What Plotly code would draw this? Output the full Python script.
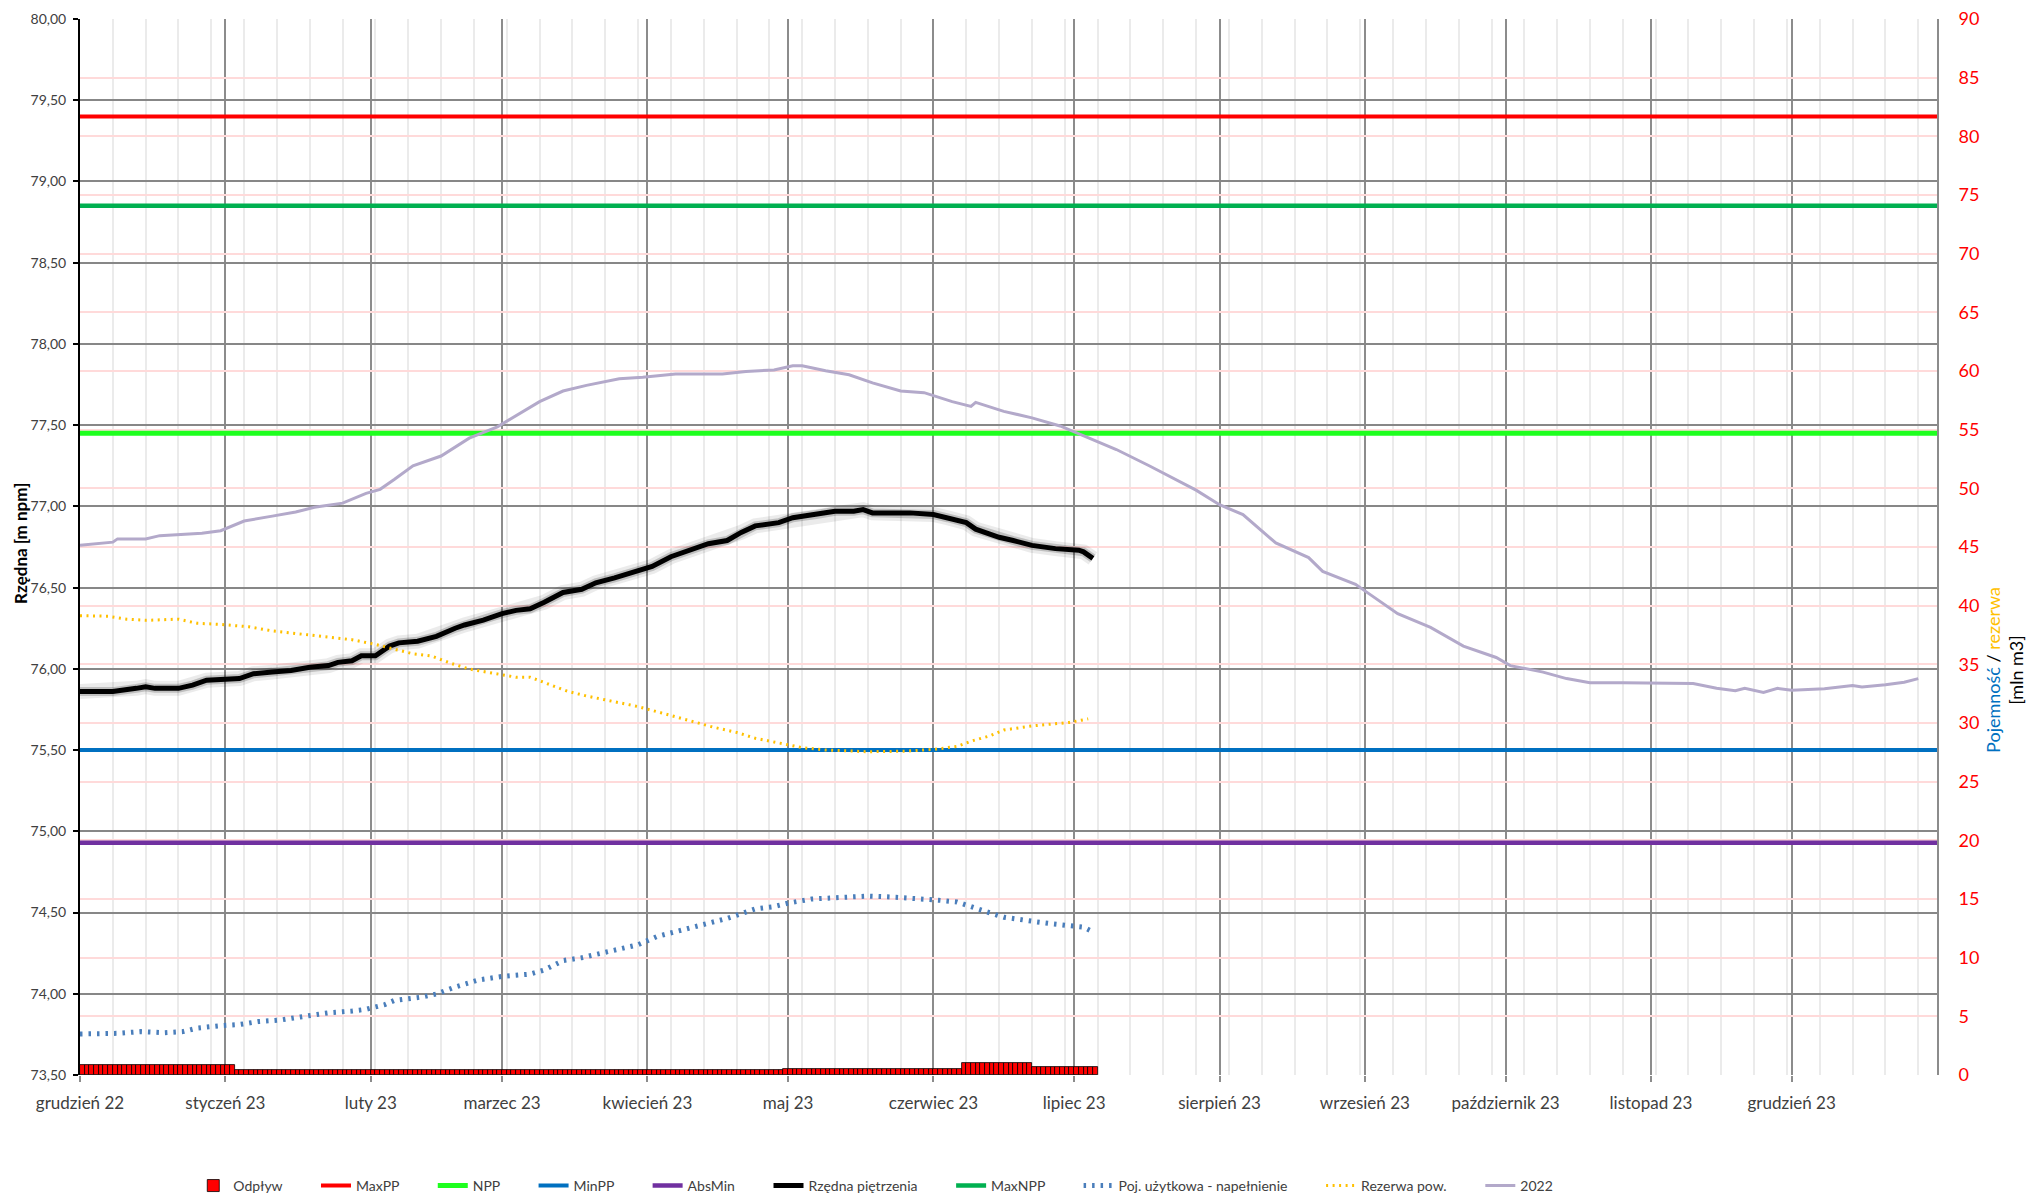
import plotly.graph_objects as go
from datetime import date, timedelta

# ---------------- data ----------------
month_ticks = ['2022-12-01', '2023-01-01', '2023-02-01', '2023-03-01', '2023-04-01', '2023-05-01',
               '2023-06-01', '2023-07-01', '2023-08-01', '2023-09-01', '2023-10-01', '2023-11-01',
               '2023-12-01']
month_labels = ['grudzień 22', 'styczeń 23', 'luty 23', 'marzec 23', 'kwiecień 23', 'maj 23',
                'czerwiec 23', 'lipiec 23', 'sierpień 23', 'wrzesień 23', 'październik 23',
                'listopad 23', 'grudzień 23']
x_span = ['2022-12-01', '2024-01-01']

max_pp = 79.40
npp = 77.45
min_pp = 75.50
abs_min = 74.93
max_npp = 78.85

rzedna_dates = ['2022-12-01', '2022-12-08', '2022-12-13', '2022-12-15', '2022-12-17', '2022-12-22',
                '2022-12-25', '2022-12-28', '2023-01-04', '2023-01-07', '2023-01-11', '2023-01-15',
                '2023-01-19', '2023-01-23', '2023-01-25', '2023-01-28', '2023-01-30', '2023-02-02',
                '2023-02-05', '2023-02-07', '2023-02-11', '2023-02-15', '2023-02-19', '2023-02-21',
                '2023-02-25', '2023-03-01', '2023-03-04', '2023-03-07', '2023-03-10', '2023-03-14',
                '2023-03-18', '2023-03-21', '2023-03-25', '2023-03-30', '2023-04-02', '2023-04-06',
                '2023-04-11', '2023-04-14', '2023-04-18', '2023-04-21', '2023-04-24', '2023-04-29',
                '2023-05-02', '2023-05-07', '2023-05-11', '2023-05-15', '2023-05-17', '2023-05-19',
                '2023-05-27', '2023-06-01', '2023-06-04', '2023-06-08', '2023-06-10', '2023-06-15',
                '2023-06-18', '2023-06-22', '2023-06-27', '2023-07-02', '2023-07-03', '2023-07-05']
rzedna_values = [75.86, 75.86, 75.88, 75.89, 75.88, 75.88,
                 75.90, 75.93, 75.94, 75.97, 75.98, 75.99,
                 76.01, 76.02, 76.04, 76.05, 76.08, 76.08,
                 76.14, 76.16, 76.17, 76.20, 76.25, 76.27,
                 76.30, 76.34, 76.36, 76.37, 76.41, 76.47,
                 76.49, 76.53, 76.56, 76.60, 76.63, 76.69,
                 76.74, 76.77, 76.79, 76.84, 76.88, 76.90,
                 76.93, 76.95, 76.97, 76.97, 76.98, 76.96,
                 76.96, 76.95, 76.93, 76.90, 76.86, 76.81,
                 76.79, 76.76, 76.74, 76.73, 76.72, 76.68]

poj_dates = ['2022-12-01', '2022-12-09', '2022-12-14', '2022-12-19', '2022-12-23', '2022-12-26',
             '2022-12-31', '2023-01-04', '2023-01-08', '2023-01-13', '2023-01-17', '2023-01-23',
             '2023-01-28', '2023-01-31', '2023-02-04', '2023-02-06', '2023-02-12', '2023-02-15',
             '2023-02-19', '2023-02-24', '2023-03-01', '2023-03-07', '2023-03-10', '2023-03-14',
             '2023-03-18', '2023-03-21', '2023-03-25', '2023-03-30', '2023-04-03', '2023-04-07',
             '2023-04-11', '2023-04-14', '2023-04-18', '2023-04-21', '2023-04-24', '2023-04-28',
             '2023-05-01', '2023-05-06', '2023-05-12', '2023-05-18', '2023-05-24', '2023-05-30',
             '2023-06-02', '2023-06-06', '2023-06-09', '2023-06-12', '2023-06-16', '2023-06-19',
             '2023-06-23', '2023-06-26', '2023-06-30', '2023-07-03', '2023-07-05']
poj_values = [3.5, 3.55, 3.7, 3.6, 3.7, 4.0,
              4.2, 4.3, 4.55, 4.7, 4.95, 5.3,
              5.45, 5.6, 6.0, 6.35, 6.65, 6.9,
              7.5, 8.1, 8.4, 8.6, 8.95, 9.75,
              10.0, 10.3, 10.6, 11.1, 11.8, 12.2,
              12.7, 13.0, 13.35, 13.75, 14.15, 14.35,
              14.65, 15.0, 15.15, 15.25, 15.15, 15.05,
              14.9, 14.75, 14.4, 13.95, 13.45, 13.25,
              13.05, 12.9, 12.75, 12.6, 12.2]

rez_dates = ['2022-12-01', '2022-12-07', '2022-12-11', '2022-12-15', '2022-12-22', '2022-12-26',
             '2022-12-31', '2023-01-06', '2023-01-11', '2023-01-17', '2023-01-23', '2023-01-28',
             '2023-02-02', '2023-02-06', '2023-02-10', '2023-02-14', '2023-02-18', '2023-02-22',
             '2023-02-27', '2023-03-04', '2023-03-07', '2023-03-11', '2023-03-15', '2023-03-19',
             '2023-03-24', '2023-03-30', '2023-04-05', '2023-04-11', '2023-04-15', '2023-04-20',
             '2023-04-24', '2023-04-29', '2023-05-04', '2023-05-09', '2023-05-18', '2023-05-26',
             '2023-06-01', '2023-06-06', '2023-06-09', '2023-06-13', '2023-06-16', '2023-06-22',
             '2023-06-27', '2023-06-30', '2023-07-04']
rez_values = [39.15, 39.1, 38.85, 38.75, 38.85, 38.5,
              38.4, 38.2, 37.85, 37.6, 37.35, 37.1,
              36.7, 36.3, 35.9, 35.7, 35.1, 34.6,
              34.25, 33.9, 33.9, 33.3, 32.7, 32.3,
              31.9, 31.4, 30.75, 30.05, 29.65, 29.2,
              28.7, 28.3, 27.9, 27.7, 27.55, 27.6,
              27.75, 28.0, 28.45, 28.9, 29.4, 29.75,
              29.9, 30.05, 30.35]

y2022_dates = ['2022-12-01', '2022-12-08', '2022-12-09', '2022-12-15', '2022-12-18', '2022-12-27',
               '2022-12-31', '2023-01-05', '2023-01-11', '2023-01-16', '2023-01-20', '2023-01-26',
               '2023-01-31', '2023-02-03', '2023-02-06', '2023-02-10', '2023-02-16', '2023-02-22',
               '2023-02-28', '2023-03-05', '2023-03-09', '2023-03-14', '2023-03-19', '2023-03-26',
               '2023-03-31', '2023-04-07', '2023-04-17', '2023-04-22', '2023-04-28', '2023-05-02',
               '2023-05-04', '2023-05-09', '2023-05-14', '2023-05-19', '2023-05-25', '2023-05-30',
               '2023-06-05', '2023-06-09', '2023-06-10', '2023-06-16', '2023-06-22', '2023-06-28',
               '2023-07-04', '2023-07-10', '2023-07-17', '2023-07-27', '2023-08-01', '2023-08-06',
               '2023-08-13', '2023-08-20', '2023-08-23', '2023-08-30', '2023-09-01', '2023-09-08',
               '2023-09-15', '2023-09-22', '2023-09-29', '2023-10-02', '2023-10-09', '2023-10-14',
               '2023-10-19', '2023-10-26', '2023-11-10', '2023-11-15', '2023-11-19', '2023-11-21',
               '2023-11-25', '2023-11-28', '2023-12-01', '2023-12-08', '2023-12-14', '2023-12-16',
               '2023-12-21', '2023-12-25', '2023-12-28']
y2022_values = [76.76, 76.78, 76.80, 76.80, 76.82, 76.835,
                76.85, 76.91, 76.94, 76.965, 76.995, 77.02,
                77.08, 77.105, 77.165, 77.25, 77.31, 77.42,
                77.49, 77.575, 77.645, 77.71, 77.745, 77.785,
                77.795, 77.815, 77.815, 77.83, 77.84, 77.865,
                77.865, 77.835, 77.81, 77.76, 77.71, 77.70,
                77.645, 77.615, 77.64, 77.585, 77.545, 77.495,
                77.42, 77.35, 77.25, 77.10, 77.01, 76.95,
                76.775, 76.685, 76.60, 76.52, 76.48, 76.34,
                76.255, 76.14, 76.07, 76.02, 75.98, 75.94,
                75.915, 75.915, 75.91, 75.88, 75.865, 75.88,
                75.855, 75.88, 75.868, 75.878, 75.898, 75.888,
                75.902, 75.918, 75.94]

odplyw_start = ['2022-12-01', '2023-01-03', '2023-04-30', '2023-06-07', '2023-06-22']
odplyw_end = ['2023-01-02', '2023-04-29', '2023-06-06', '2023-06-21', '2023-07-05']
odplyw_values = [0.85, 0.4, 0.5, 1.0, 0.65]

# ---------------- figure ----------------
FONT = 'Lato'
DAY_MS = 86400000

bar_x, bar_y = [], []
for s, e, v in zip(odplyw_start, odplyw_end, odplyw_values):
    d = date.fromisoformat(s)
    de = date.fromisoformat(e)
    while d <= de:
        bar_x.append(d.isoformat())
        bar_y.append(v)
        d += timedelta(days=1)

PAD = '\u00a0' * 8

fig = go.Figure()

fig.add_trace(go.Bar(x=bar_x, y=bar_y, name='Odpływ' + PAD, yaxis='y2',
                     width=DAY_MS, offset=0,
                     marker=dict(color='#FF0000', line=dict(color='#000000', width=0.8))))


def hline(val, name, color, width):
    fig.add_trace(go.Scatter(x=x_span, y=[val, val], mode='lines', name=name + PAD,
                             line=dict(color=color, width=width)))


hline(max_pp, 'MaxPP', '#FF0000', 4)
hline(npp, 'NPP', '#1EFF1E', 5)
hline(min_pp, 'MinPP', '#0070C0', 4)
hline(abs_min, 'AbsMin', '#7030A0', 4.5)

# soft shadow of the main line
fig.add_trace(go.Scatter(x=rzedna_dates, y=rzedna_values, mode='lines', showlegend=False,
                         hoverinfo='skip', line=dict(color='rgba(0,0,0,0.08)', width=15)))
fig.add_trace(go.Scatter(x=rzedna_dates, y=rzedna_values, mode='lines', showlegend=False,
                         hoverinfo='skip', line=dict(color='rgba(0,0,0,0.18)', width=9)))
fig.add_trace(go.Scatter(x=rzedna_dates, y=rzedna_values, mode='lines', name='Rzędna piętrzenia' + PAD,
                         line=dict(color='#000000', width=5)))

hline(max_npp, 'MaxNPP', '#00B050', 4.5)

fig.add_trace(go.Scatter(x=poj_dates, y=poj_values, mode='lines', yaxis='y2',
                         name='Poj. użytkowa - napełnienie' + PAD,
                         line=dict(color='#4A7EBB', width=5, dash='2.5px,6px')))
fig.add_trace(go.Scatter(x=rez_dates, y=rez_values, mode='lines', yaxis='y2',
                         name='Rezerwa pow.' + PAD,
                         line=dict(color='#FFC000', width=3, dash='2px,4.5px')))
fig.add_trace(go.Scatter(x=y2022_dates, y=y2022_values, mode='lines', name='2022',
                         line=dict(color='#B3A9CA', width=3)))

fig.update_layout(
    width=2026, height=1196,
    margin=dict(l=80, r=89, t=19, b=121, autoexpand=False),
    paper_bgcolor='white', plot_bgcolor='white',
    separators=', ',
    font=dict(family=FONT, size=14, color='#404040'),
    bargap=0,
    showlegend=True,
    legend=dict(orientation='h', x=0.061, xanchor='left', yref='container', y=0.0084, yanchor='middle',
                font=dict(family=FONT, size=14, color='#404040'), bgcolor='rgba(0,0,0,0)'),
    xaxis=dict(type='date', range=x_span, automargin=False,
               tickmode='array', tickvals=month_ticks, ticktext=month_labels,
               tickfont=dict(family=FONT, size=17, color='#404040'),
               ticks='outside', ticklen=6, tickwidth=1.5, tickcolor='#8C8C8C',
               ticklabelstandoff=7,
               showgrid=True, gridcolor='#8C8C8C', gridwidth=1.5,
               minor=dict(tickmode='linear', tick0='2022-12-01', dtick=7 * DAY_MS,
                          showgrid=True, gridcolor='#EBEBEB', gridwidth=1.5, ticks=''),
               showline=False, zeroline=False),
    yaxis=dict(range=[73.5, 80.0], tickmode='linear', tick0=73.5, dtick=0.5, tickformat='.2f',
               automargin=False,
               tickfont=dict(family=FONT, size=14, color='#404040'),
               ticks='outside', ticklen=5, tickcolor='#000000', tickwidth=1.5,
               ticklabelstandoff=4,
               showgrid=True, gridcolor='#878787', gridwidth=2,
               showline=True, linecolor='#000000', linewidth=2, zeroline=False),
    yaxis2=dict(range=[0, 90], tickmode='linear', tick0=0, dtick=5, overlaying='y', side='right',
                automargin=False,
                tickfont=dict(family=FONT, size=18, color='#FF0000'),
                ticks='', ticklabelstandoff=16,
                showgrid=True, gridcolor='#FFDADA', gridwidth=1.8,
                showline=True, linecolor='#8C8C8C', linewidth=2, zeroline=False),
    annotations=[
        dict(text='<b>Rzędna [m npm]</b>', xref='paper', yref='paper', x=-0.0318, y=0.5038,
             xanchor='center', yanchor='middle', textangle=-90, showarrow=False,
             font=dict(family=FONT, size=17, color='#000000')),
        dict(text='<span style="color:#0070C0">Pojemność</span> / '
                  '<span style="color:#FFC000">rezerwa</span><br>[mln m3]',
             xref='paper', yref='paper', x=1.036, y=0.3835,
             xanchor='center', yanchor='middle', textangle=-90, showarrow=False,
             font=dict(family=FONT, size=18, color='#000000')),
    ],
)

# remove the default 8px page margin so the figure fills the window exactly
fig.write_html('out.html',
               config={'displayModeBar': False},
               post_script="document.body.style.margin='0px';document.body.style.overflow='hidden';")
